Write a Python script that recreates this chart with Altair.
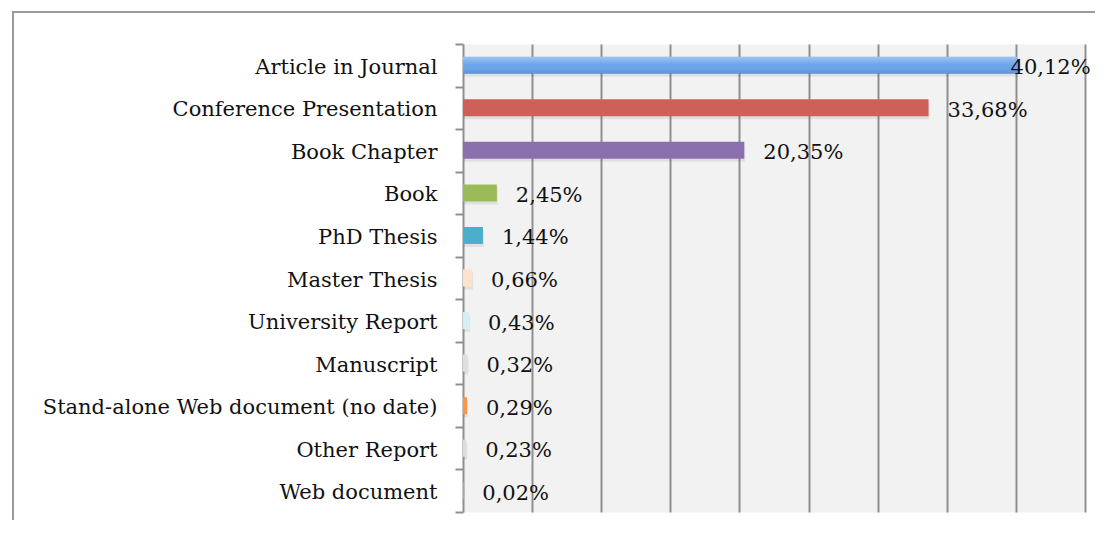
import altair as alt
import pandas as pd

categories = [
    "Article in Journal",
    "Conference Presentation",
    "Book Chapter",
    "Book",
    "PhD Thesis",
    "Master Thesis",
    "University Report",
    "Manuscript",
    "Stand-alone Web document (no date)",
    "Other Report",
    "Web document",
]
values = [40.12, 33.68, 20.35, 2.45, 1.44, 0.66, 0.43, 0.32, 0.29, 0.23, 0.02]
value_labels = ["40,12%", "33,68%", "20,35%", "2,45%", "1,44%", "0,66%",
                "0,43%", "0,32%", "0,29%", "0,23%", "0,02%"]
bar_colors = ["#6aa4ec", "#cf5f59", "#8a71ae", "#9bbb59", "#4bafcc", "#fde3cc",
              "#d6eef5", "#dedede", "#f79646", "#dcdcdc", "#e4e4e4"]
grid_values = [5, 10, 15, 20, 25, 30, 35, 40, 45]

df = pd.DataFrame({"category": categories, "value": values, "label": value_labels})

W, H = 622, 468
FONT = "DejaVu Serif"
GRID = "#8f8f8f"
BAR = 17

x_enc = alt.X(
    "value:Q",
    scale=alt.Scale(domain=[0, 45], nice=False, zero=True),
    axis=alt.Axis(values=grid_values, grid=True, gridColor=GRID, gridWidth=2,
                  labels=False, ticks=False, domain=False, title=None),
)
y_enc = alt.Y(
    "category:N",
    sort=categories,
    scale=alt.Scale(domain=categories, paddingInner=0, paddingOuter=0),
    axis=alt.Axis(title=None, domainColor=GRID, domainWidth=2, tickColor=GRID,
                  tickWidth=2, tickSize=8, tickBand="extent", labelFont=FONT,
                  labelFontSize=21, labelColor="#111111", labelPadding=18,
                  labelLimit=0, labelOffset=2, grid=False),
)
y_plain = alt.Y("category:N", sort=categories)

base = alt.Chart(df)

shadow = base.mark_bar(size=BAR, yOffset=3, xOffset=1, color="#000000", opacity=0.07).encode(
    x=x_enc, y=y_enc
)

bars = base.mark_bar(size=BAR).encode(
    x="value:Q",
    y=y_plain,
    color=alt.Color("category:N", scale=alt.Scale(domain=categories, range=bar_colors), legend=None),
)

shine = base.mark_bar(
    size=BAR,
    color=alt.Gradient(
        gradient="linear", x1=0, x2=0, y1=0, y2=1,
        stops=[
            alt.GradientStop(color="rgba(255,255,255,0.35)", offset=0),
            alt.GradientStop(color="rgba(255,255,255,0.0)", offset=0.5),
            alt.GradientStop(color="rgba(0,0,40,0.14)", offset=1),
        ],
    ),
).encode(x="value:Q", y=y_plain).transform_filter(alt.datum.value >= max(values))

labels_rest = base.mark_text(
    align="left", baseline="middle", dx=19, dy=3, font=FONT, fontSize=21, color="#111111"
).encode(x="value:Q", y=y_plain, text="label:N").transform_filter(
    alt.datum.value < max(values)
)

label_top = base.mark_text(
    align="left", baseline="middle", dx=-7, dy=3, font=FONT, fontSize=21, color="#111111"
).encode(x="value:Q", y=y_plain, text="label:N").transform_filter(
    alt.datum.value >= max(values)
)

frame_df = pd.DataFrame({"k": [0]})
frame_left = alt.Chart(frame_df).mark_rule(color="#9a9a9a", strokeWidth=2).encode(
    x=alt.value(-450), y=alt.value(-32), y2=alt.value(H + 60)
)
frame_top = alt.Chart(frame_df).mark_rule(color="#9a9a9a", strokeWidth=2).encode(
    x=alt.value(-451), x2=alt.value(W + 60), y=alt.value(-32)
)

chart = (
    alt.layer(shadow, bars, shine, labels_rest, label_top, frame_left, frame_top)
    .properties(
        width=W,
        height=H,
        padding={"left": 455, "top": 36, "right": 10, "bottom": 8},
        autosize=alt.AutoSizeParams(type="none"),
        background="white",
    )
    .configure_view(fill="#f2f2f2", stroke="transparent")
)

chart.save("out.html", embed_options={"renderer": "svg", "actions": False})
